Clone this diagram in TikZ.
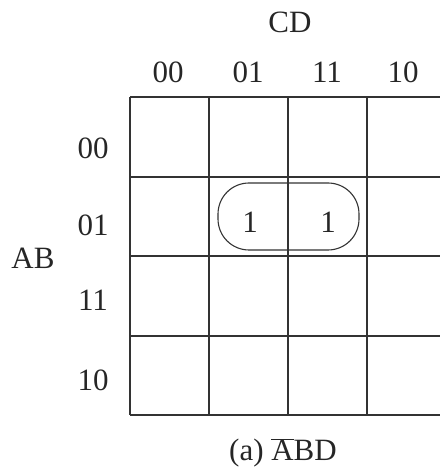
\documentclass[tikz,border=0pt]{standalone}
\usepackage{fontspec}
\setmainfont{Liberation Serif}
\usepackage{tikz}
\usetikzlibrary{positioning}

\begin{document}
\begin{tikzpicture}[
  x=1pt, y=1pt,
  lbl/.style={font=\fontsize{31}{37}\selectfont, text=black!85, inner sep=0pt},
  one/.style={font=\fontsize{31}{37}\selectfont, text=black!85, inner sep=0pt},
  grid/.style={line width=1.2pt, black!80},
  loop/.style={line width=1.1pt, black!80, rounded corners=31pt}
]
\useasboundingbox (0,0) rectangle (440,473);

% Grid lines (map runs off the right edge)
\foreach \y in {376,296,217,137,58}
  \draw[grid] (130,\y) -- (440,\y);
\foreach \x in {130,209,288,367}
  \draw[grid] (\x,376) -- (\x,58);

% Variable names
\node[lbl] (cd) at (290,451) {CD};
\node[lbl] (ab) at (33,215) {AB};

% Column labels
\node[lbl] (c00) at (168,401) {00};
\node[lbl] (c01) at (248,401) {01};
\node[lbl] (c11) at (327,401) {11};
\node[lbl] (c10) at (403,401) {10};

% Row labels
\node[lbl] (r00) at (93,325) {00};
\node[lbl] (r01) at (93,248) {01};
\node[lbl] (r11) at (93,173) {11};
\node[lbl] (r10) at (93,93) {10};

% Minterms
\node[one] (m5) at (250,251) {1};
\node[one] (m7) at (328,251) {1};

% Loop round the pair
\draw[loop] (218,223) rectangle (359,290);

% Caption
\node[lbl] (cap) at (283,20) {(a) $\overline{\mbox{A}}$BD};

\end{tikzpicture}
\end{document}
